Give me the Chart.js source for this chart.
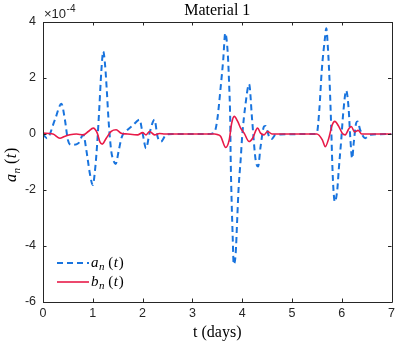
<!DOCTYPE html>
<html><head><meta charset="utf-8">
<script src="https://cdn.jsdelivr.net/npm/chart.js@4/dist/chart.umd.min.js"></script>
<style>html,body{margin:0;padding:0;background:#fff;overflow:hidden}</style>
</head><body>
<canvas id="c" width="399" height="347" style="width:399px;height:347px;display:block"></canvas>
<script>
// values in units of 1e-4
const tA = [0,0.08,0.24,0.37,0.44,0.5,0.57,0.71,0.81,0.87,0.94,1.0,1.05,1.09,1.13,1.17,1.21,1.25,1.28,1.32,1.37,1.41,1.46,1.52,1.58,1.67,1.8,1.94,2.0,2.07,2.14,2.24,2.3,2.37,2.47,2.6,3.3,3.44,3.5,3.57,3.62,3.66,3.71,3.74,3.76,3.77,3.79,3.81,3.83,3.87,3.9,3.93,3.97,4.0,4.07,4.14,4.2,4.27,4.32,4.37,4.44,4.47,4.54,4.59,4.67,5.45,5.5,5.55,5.6,5.66,5.69,5.72,5.76,5.79,5.81,5.83,5.86,5.91,5.94,5.99,6.03,6.09,6.14,6.17,6.21,6.24,6.29,6.32,6.37,6.47,6.57,7.0];
const aValues = [0,-0.15,0.51,1.08,0.51,-0.21,-0.39,-0.33,-0.03,-0.57,-1.4,-1.82,-1.2,-0.3,0.9,2.2,2.95,2.4,1.6,0.4,-0.6,-0.92,-1.07,-0.6,-0.12,0.1,0.3,0.51,0.03,-0.51,0.03,0.51,-0.09,-0.27,-0.03,0,0,0.05,0.51,1.7,2.66,3.6,2.9,1.7,0.51,-0.92,-2.48,-3.67,-4.65,-4.27,-3.07,-1.88,-0.92,-0.09,1.1,1.78,0.51,-0.92,-1.16,-0.45,0.27,0.29,-0.09,-0.18,-0.03,0,0.03,0.87,2.3,3.38,3.78,3.14,1.7,0.15,-1.04,-1.88,-2.42,-2.0,-1.28,-0.21,0.75,1.55,0.87,-0.09,-0.87,-0.33,0.39,0.45,0.15,-0.15,-0.03,0];

const tB = [0,0.2,0.34,0.43,0.54,0.67,0.81,0.91,1.01,1.09,1.14,1.19,1.27,1.37,1.47,1.57,1.7,1.9,2.0,2.07,2.14,2.24,2.34,2.45,3.45,3.5,3.57,3.67,3.74,3.79,3.84,3.91,3.97,4.04,4.14,4.21,4.31,4.37,4.44,4.51,4.6,5.45,5.5,5.61,5.67,5.74,5.81,5.86,5.94,6.01,6.07,6.14,6.19,6.26,6.33,6.4,6.55,7.0];
const bValues = [0.03,0,-0.15,-0.09,-0.03,0,-0.03,0.09,0.21,0.03,-0.27,-0.36,-0.15,0.09,0.15,0.03,0,-0.03,0.05,-0.03,0.09,-0.03,0.02,0,0,-0.02,-0.09,-0.48,-0.21,0.39,0.63,0.45,0.21,0.03,-0.27,-0.15,0.21,0.03,-0.03,0.09,0,0,0,-0.21,-0.45,-0.15,0.33,0.45,0.27,0.03,-0.03,0.18,0.27,0.07,0.13,0,0,0];

const xTickValues = [0,1,2,3,4,5,6,7];
const yTickValues = [-6,-4,-2,0,2,4];
const seriesNames = ['a', 'b'];
const titleText = 'Material 1';
const xTitleText = 't (days)';
const exponentText = '-4';

const blue = 'rgb(25,116,222)';
const red = 'rgb(232,26,72)';
const axisColor = '#262626';

function pts(ts, vs){ return ts.map((t,i)=>({x:t,y:vs[i]})); }

function drawMath(ctx, x, y, name, size){
  ctx.textBaseline = 'alphabetic';
  ctx.textAlign = 'left';
  ctx.font = 'italic ' + size + 'px "Liberation Serif", "DejaVu Serif", serif';
  ctx.fillText(name, x, y);
  x += ctx.measureText(name).width + 0.5;
  const sub = Math.round(size*0.7);
  ctx.font = 'italic ' + sub + 'px "Liberation Serif", "DejaVu Serif", serif';
  ctx.fillText('n', x, y + size*0.22);
  x += ctx.measureText('n').width + size*0.25;
  ctx.font = size + 'px "Liberation Serif", "DejaVu Serif", serif';
  ctx.fillText('(', x, y);
  x += ctx.measureText('(').width + 0.5;
  ctx.font = 'italic ' + size + 'px "Liberation Serif", "DejaVu Serif", serif';
  ctx.fillText('t', x, y);
  x += ctx.measureText('t').width + 0.8;
  ctx.font = size + 'px "Liberation Serif", "DejaVu Serif", serif';
  ctx.fillText(')', x, y);
}

const decor = {
  id: 'decor',
  afterDraw(chart){
    const ctx = chart.ctx, a = chart.chartArea, xs = chart.scales.x, ys = chart.scales.y;
    ctx.save();
    ctx.strokeStyle = axisColor; ctx.lineWidth = 1;
    ctx.beginPath();
    ctx.rect(Math.round(a.left)+0.5, Math.round(a.top)+0.5, Math.round(a.right-a.left), Math.round(a.bottom-a.top));
    ctx.stroke();
    const tl = 3.5;
    ctx.beginPath();
    xTickValues.forEach(v=>{
      const px = Math.round(xs.getPixelForValue(v))+0.5;
      ctx.moveTo(px, a.bottom); ctx.lineTo(px, a.bottom - tl);
      ctx.moveTo(px, a.top); ctx.lineTo(px, a.top + tl);
    });
    yTickValues.forEach(v=>{
      const py = Math.round(ys.getPixelForValue(v))+0.5;
      ctx.moveTo(a.left, py); ctx.lineTo(a.left + tl, py);
      ctx.moveTo(a.right, py); ctx.lineTo(a.right - tl, py);
    });
    ctx.stroke();

    ctx.fillStyle = '#000';
    ctx.font = '16px "Liberation Serif", "DejaVu Serif", serif';
    ctx.textAlign = 'center'; ctx.textBaseline = 'alphabetic';
    ctx.fillText(titleText, (a.left+a.right)/2, 15);
    ctx.fillText(xTitleText, (a.left+a.right)/2, 337);
    // exponent
    ctx.fillStyle = axisColor;
    ctx.textAlign = 'left';
    ctx.font = '13px "Liberation Sans", Arial, sans-serif';
    ctx.fillText('\u00d710', 44, 18);
    const w = ctx.measureText('\u00d710').width;
    ctx.font = '10px "Liberation Sans", Arial, sans-serif';
    ctx.fillText(exponentText, 44 + w + 0.5, 12);

    // y title rotated
    ctx.fillStyle = '#000';
    ctx.save();
    ctx.translate(16, 182);
    ctx.rotate(-Math.PI/2);
    drawMath(ctx, 0, 0, seriesNames[0], 16);
    ctx.restore();

    // legend
    const items = [{c:blue, dash:[6,4], w:2, name:seriesNames[0], y:263},{c:red, dash:[], w:1.6, name:seriesNames[1], y:282}];
    items.forEach(it=>{
      ctx.save();
      ctx.strokeStyle = it.c; ctx.lineWidth = it.w; ctx.setLineDash(it.dash);
      ctx.beginPath(); ctx.moveTo(57, it.y); ctx.lineTo(89, it.y); ctx.stroke();
      ctx.restore();
      ctx.fillStyle = '#000';
      drawMath(ctx, 91, it.y + 4, it.name, 15);
    });
    ctx.restore();
  }
};

new Chart(document.getElementById('c'), {
  type: 'line',
  data: {
    datasets: [
      { label: 'a_n(t)', data: pts(tA, aValues), borderColor: blue, borderWidth: 2, borderDash: [6,4], pointRadius: 0, cubicInterpolationMode: 'monotone', fill: false, order: 1 },
      { label: 'b_n(t)', data: pts(tB, bValues), borderColor: red, borderWidth: 1.6, pointRadius: 0, cubicInterpolationMode: 'monotone', fill: false, order: 0 }
    ]
  },
  options: {
    responsive: false, animation: false, devicePixelRatio: 1,
    layout: { padding: { left: 0, right: 7, top: 22, bottom: 0 } },
    plugins: { legend: { display: false }, tooltip: { enabled: false }, title: { display: false } },
    scales: {
      x: {
        type: 'linear', min: 0, max: 7,
        afterFit(s){ s.height = 45; },
        afterBuildTicks(s){ s.ticks = xTickValues.map(v=>({value:v})); },
        grid: { display: false, drawTicks: false },
        border: { display: false },
        ticks: { color: axisColor, padding: 4, font: { family: '"Liberation Sans", Arial, sans-serif', size: 12.5 } }
      },
      y: {
        type: 'linear', min: -6, max: 4,
        afterFit(s){ s.width = 43; },
        afterBuildTicks(s){ s.ticks = yTickValues.map(v=>({value:v})); },
        grid: { display: false, drawTicks: false },
        border: { display: false },
        ticks: { color: axisColor, padding: 7, font: { family: '"Liberation Sans", Arial, sans-serif', size: 12.5 } }
      }
    }
  },
  plugins: [decor]
});
</script>
</body></html>
